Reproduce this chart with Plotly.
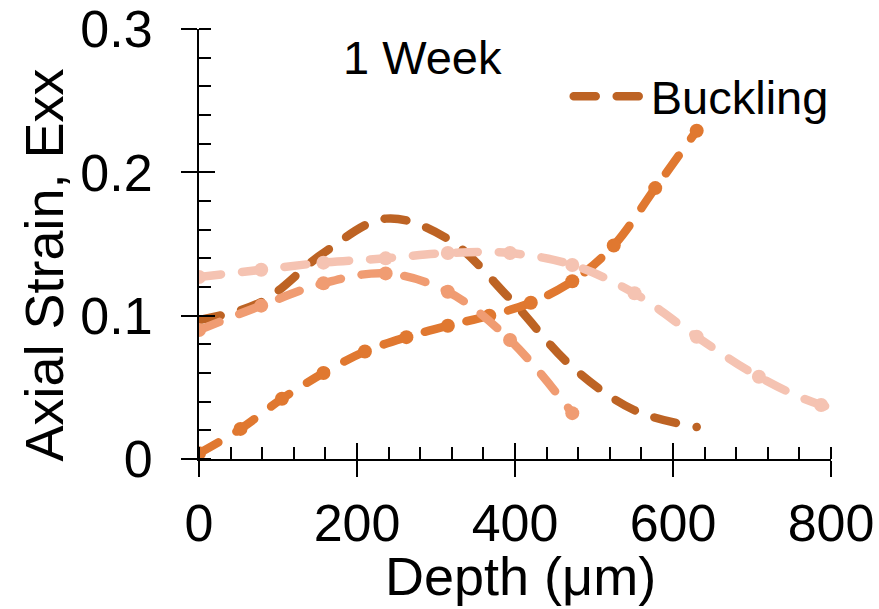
import plotly.graph_objects as go

# ---- data ----
depth_fine = [0, 52.5, 105, 157.5, 210, 262.5, 315, 367.5, 420, 472.5, 525, 577.5, 630]
orange_vals = [0.004, 0.021, 0.042, 0.060, 0.075, 0.085, 0.093, 0.100, 0.109, 0.124, 0.149, 0.189, 0.229]

depth_buckling = [0, 78.75, 157.5, 236.25, 315, 393.75, 472.5, 551.25, 630]
buckling_vals = [0.097, 0.1095, 0.1437, 0.1677, 0.1535, 0.1117, 0.0642, 0.034, 0.0223]

depth_salmon = [0, 78.75, 157.5, 236.25, 315, 393.75, 472.5]
salmon_vals = [0.090, 0.107, 0.1226, 0.1295, 0.1167, 0.083, 0.032]

depth_pink = [0, 78.75, 157.5, 236.25, 315, 393.75, 472.5, 551.25, 630, 708.75, 787.5, 866.25]
pink_vals = [0.127, 0.132, 0.137, 0.140, 0.1437, 0.1437, 0.1354, 0.1156, 0.0853, 0.0574, 0.0377, 0.030]

x_ticks = [0, 200, 400, 600, 800]
y_ticks = [0, 0.1, 0.2, 0.3]
y_ticktext = ["0", "0.1", "0.2", "0.3"]

x_title = "Depth (μm)"
y_title = "Axial Strain, Exx"
panel_label = "1 Week"

C_BROWN = "#BD6324"
C_ORANGE = "#E07830"
C_SALMON = "#F09C72"
C_PINK = "#F5C3B2"

FONT = "Liberation Sans, Arial, sans-serif"
DASH = "22px,21px"
LW = 8.5
MS = 14

fig = go.Figure()
fig.add_trace(go.Scatter(x=depth_buckling, y=buckling_vals, mode="lines", name="Buckling",
                         line=dict(color=C_BROWN, width=LW, dash=DASH, shape="spline", smoothing=1),
                         showlegend=True))
fig.add_trace(go.Scatter(x=depth_fine, y=orange_vals, mode="lines+markers",
                         line=dict(color=C_ORANGE, width=LW, dash=DASH, shape="spline", smoothing=1),
                         marker=dict(color=C_ORANGE, size=MS, line=dict(width=0)), showlegend=False))
fig.add_trace(go.Scatter(x=depth_salmon, y=salmon_vals, mode="lines+markers",
                         line=dict(color=C_SALMON, width=LW, dash=DASH, shape="spline", smoothing=1),
                         marker=dict(color=C_SALMON, size=MS, line=dict(width=0)), showlegend=False))
fig.add_trace(go.Scatter(x=depth_pink, y=pink_vals, mode="lines+markers",
                         line=dict(color=C_PINK, width=LW, dash=DASH, shape="spline", smoothing=1),
                         marker=dict(color=C_PINK, size=MS, line=dict(width=0)), showlegend=False))

axis_common = dict(showline=True, linecolor="black", linewidth=2, showgrid=False, zeroline=False,
                   tickcolor="black", tickwidth=2, automargin=False)

fig.update_layout(
    width=879, height=609,
    margin=dict(l=199, r=48, t=29, b=150),
    paper_bgcolor="white", plot_bgcolor="white",
    font=dict(family=FONT, color="black", size=47),
    xaxis=dict(range=[0, 800], tickmode="array", tickvals=x_ticks, ticks="outside", ticklen=16,
               minor=dict(dtick=40, tick0=0, ticks="inside", ticklen=12, tickwidth=2, tickcolor="black"),
               tickfont=dict(size=52), ticklabelstandoff=2,
               **axis_common),
    xaxis2=dict(range=[0, 800], overlaying="x", anchor="y", side="bottom", tickmode="array",
                tickvals=x_ticks, ticks="inside", ticklen=16, showticklabels=False,
                showline=False, showgrid=False, zeroline=False, tickcolor="black", tickwidth=2,
                automargin=False),
    yaxis=dict(range=[0, 0.3], tickmode="array", tickvals=y_ticks, ticktext=y_ticktext,
               ticks="outside", ticklen=16,
               minor=dict(dtick=0.02, tick0=0, ticks="inside", ticklen=12, tickwidth=2, tickcolor="black"),
               tickfont=dict(size=52), ticklabelstandoff=18,
               **axis_common),
    yaxis2=dict(range=[0, 0.3], overlaying="y", anchor="x", side="left", tickmode="array",
                tickvals=y_ticks, ticks="inside", ticklen=16, showticklabels=False,
                showline=False, showgrid=False, zeroline=False, tickcolor="black", tickwidth=2,
                automargin=False),
    legend=dict(x=0.585, y=0.93, xanchor="left", yanchor="top", bgcolor="rgba(0,0,0,0)",
                font=dict(size=47), itemwidth=72),
    annotations=[
        dict(text=panel_label, xref="paper", yref="paper", x=0.354, y=0.9326,
             xanchor="center", yanchor="middle", showarrow=False, font=dict(size=47)),
        dict(text=x_title, xref="paper", yref="paper", x=0.508, y=-0.272,
             xanchor="center", yanchor="middle", showarrow=False, font=dict(size=54)),
        dict(text=y_title, xref="paper", yref="paper", x=-0.2468, y=0.45, textangle=-90,
             xanchor="center", yanchor="middle", showarrow=False, font=dict(size=54)),
    ],
)

fig.add_trace(go.Scatter(x=[], y=[], xaxis="x2", yaxis="y2", showlegend=False, hoverinfo="skip"))

post = ("var s=document.createElement('style');"
        "s.textContent='body{margin:0;padding:0}.js-line,.legendlines path{stroke-linecap:round;stroke-linejoin:round}';"
        "document.head.appendChild(s);")
fig.write_html("out.html", post_script=post, config={"displayModeBar": False})
